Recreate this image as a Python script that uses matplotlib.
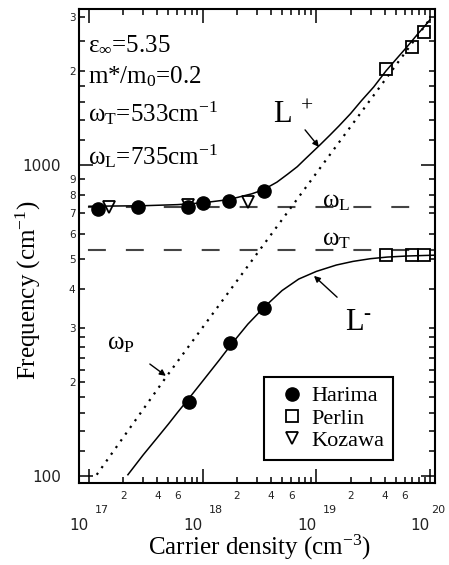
import numpy as np
import matplotlib.pyplot as plt
from matplotlib import ticker, transforms

# Fonts: serif text, sans tick labels
plt.rcParams["font.family"] = "Liberation Serif"
plt.rcParams["mathtext.fontset"] = "custom"
plt.rcParams["mathtext.rm"] = "Liberation Serif"
plt.rcParams["mathtext.it"] = "Liberation Serif:italic"

# Measured points (carrier density in cm^-3, frequency in cm^-1)
harima_up_n = [1.2e17, 2.7e17, 7.4e17, 1.0e18, 1.7e18, 3.5e18]
harima_up_w = [722, 733, 735, 755, 766, 826]
harima_lo_n = [7.6e17, 1.75e18, 3.5e18]
harima_lo_w = [173, 268, 347]
perlin_up_n = [4.1e19, 7.0e19, 8.9e19]
perlin_up_w = [2037, 2393, 2680]
perlin_lo_n = [4.1e19, 7.0e19, 8.9e19]
perlin_lo_w = [514, 514, 514]
kozawa_n = [1.5e17, 7.4e17, 2.5e18]
kozawa_w = [733, 745, 762]

# Coupled mode curves
lplus_n = [1e17, 3e17, 6e17, 1e18, 1.5e18, 2e18, 2.7e18, 3.4e18, 4.5e18, 5.6e18,
           6.8e18, 7.9e18, 9.3e18, 1.08e19, 1.32e19, 1.58e19, 2.0e19, 2.5e19,
           3.2e19, 4.1e19, 5.0e19, 6.3e19, 7.9e19, 8.9e19, 1.0e20]
lplus_w = [737, 740, 746, 756, 770, 786, 808, 832, 881, 935,
           988, 1042, 1103, 1162, 1249, 1335, 1463, 1612,
           1783, 2007, 2182, 2403, 2653, 2785, 2933]
lminus_n = [2.2e17, 3e17, 4e17, 5e17, 6e17, 7.6e17, 1e18, 1.4e18, 1.8e18, 2.5e18,
            3.5e18, 5e18, 7e18, 1e19, 1.5e19, 2.1e19, 3e19, 4.2e19, 6.3e19, 1.08e20]
lminus_w = [101, 117, 133, 147, 160, 178, 202, 236, 266, 308,
            350, 395, 430, 455, 477, 490, 500, 506, 510, 513]
wp_n = [1.17e17, 4.9e17, 1.0e20]
wp_w = [101, 211, 2950]

omega_L = 735
omega_T = 533

fig = plt.figure(figsize=(4.49, 5.65), dpi=100)
ax = fig.add_axes([79 / 449, 82 / 565, 356 / 449, 474 / 565])
ax.set_xscale("log")
ax.set_yscale("log")

# Phonon lines
dash = (13.9, (8.6, 9.6))
ax.axhline(omega_L, color="#444444", lw=1.5, linestyle=dash, zorder=1)
ax.axhline(omega_T, color="#444444", lw=1.5, linestyle=dash, zorder=1)

# Curves
ax.plot(wp_n, wp_w, color="k", lw=1.6, linestyle=(0, (1, 2.7)), zorder=2)
ax.plot(lplus_n, lplus_w, color="k", lw=1.1, zorder=2)
ax.plot(lminus_n, lminus_w, color="k", lw=1.1, zorder=2)

# Data points
ax.plot(harima_up_n, harima_up_w, "o", ms=9.5, color="k", zorder=4, label="Harima")
ax.plot(harima_lo_n, harima_lo_w, "o", ms=9.5, color="k", zorder=4)
ax.plot(perlin_up_n, perlin_up_w, "s", ms=9, mfc="none", mec="k", mew=1.3, zorder=4, label="Perlin")
ax.plot(perlin_lo_n, perlin_lo_w, "s", ms=9, mfc="none", mec="k", mew=1.3, zorder=4)
ax.plot(kozawa_n, kozawa_w, "v", ms=9, mfc="none", mec="k", mew=1.3, zorder=4, label="Kozawa")

ax.set_xlim(8.17e16, 1.107e20)
ax.set_ylim(95, 3175)

# Ticks
ax.xaxis.set_major_locator(ticker.FixedLocator([1e17, 1e18, 1e19, 1e20]))
ax.xaxis.set_major_formatter(ticker.NullFormatter())
xminor = [k * 10.0 ** e for e in (17, 18, 19) for k in range(2, 10)]
ax.xaxis.set_minor_locator(ticker.FixedLocator(xminor))


def xminor_fmt(v, pos):
    m = v / 10 ** np.floor(np.log10(v) + 1e-9)
    k = int(round(m))
    return str(k) if k in (2, 4, 6) else ""


ax.xaxis.set_minor_formatter(ticker.FuncFormatter(xminor_fmt))

ax.yaxis.set_major_locator(ticker.FixedLocator([100, 1000]))
ax.yaxis.set_major_formatter(ticker.FuncFormatter(lambda v, p: f"{v:g}"))
yminor = [120, 140, 160, 180, 200, 220, 240, 260, 280, 300, 400, 500, 600, 700, 800, 900,
          1200, 1400, 1600, 1800, 2000, 2500, 3000]
ax.yaxis.set_minor_locator(ticker.FixedLocator(yminor))


def yminor_fmt(v, pos):
    m = v / 10 ** np.floor(np.log10(v) + 1e-9)
    if abs(m - round(m)) < 1e-6:
        return str(int(round(m)))
    return ""


ax.yaxis.set_minor_formatter(ticker.FuncFormatter(yminor_fmt))

ax.tick_params(which="both", direction="in", top=True, right=True, width=1.1,
               labelfontfamily="DejaVu Sans", labelcolor="#222222")
ax.tick_params(which="major", length=10)
ax.tick_params(which="minor", length=4.5)
ax.tick_params(axis="y", which="major", labelsize=11, pad=13)
ax.tick_params(axis="y", which="minor", labelsize=7.5, pad=2.5)
ax.tick_params(axis="x", which="minor", labelsize=7.5, pad=6)
for s in ax.spines.values():
    s.set_linewidth(1.5)

# Decade labels drawn as "10" + exponent, the way the original does
xt = ax.get_xaxis_transform()
for e in (17, 18, 19, 20):
    ax.text(10.0 ** e, -0.099, "10", transform=xt, ha="right", va="baseline",
            fontsize=11, family="DejaVu Sans", color="#222222")
    shift = 4.5 if e < 20 else 1.0
    xt_exp = transforms.offset_copy(xt, fig=fig, x=shift, y=0, units="points")
    ax.text(10.0 ** e, -0.063, str(e), transform=xt_exp, ha="left", va="baseline",
            fontsize=8, family="DejaVu Sans", color="#222222")

# Axis labels
ax.set_xlabel("Carrier density (cm$^{-3}$)", fontsize=18)
ax.xaxis.label.set_verticalalignment("baseline")
ax.xaxis.set_label_coords(0.508, -0.152)
ax.set_ylabel("Frequency (cm$^{-1}$)", fontsize=18)
ax.yaxis.set_label_coords(-0.101, 0.407)

# Parameter block
params = [r"$\mathrm{ε}_{\infty}$=5.35",
          r"m*/m$_{0}$=0.2",
          r"$\mathrm{ω}_{\mathrm{T}}$=533cm$^{-1}$",
          r"$\mathrm{ω}_{\mathrm{L}}$=735cm$^{-1}$"]
for txt, yy in zip(params, [0.913, 0.844, 0.762, 0.673]):
    ax.text(0.025, yy, txt, transform=ax.transAxes, fontsize=18, va="baseline")

# Curve labels and arrows
ax.text(0.545, 0.759, r"L$^{\ +}$", transform=ax.transAxes, fontsize=22, va="baseline")
ax.text(0.747, 0.323, r"L$^{\mathrm{‐}}$", transform=ax.transAxes, fontsize=22, va="baseline")
ax.text(0.683, 0.582, r"$\mathrm{ω}_{\mathrm{L}}$", transform=ax.transAxes, fontsize=18, va="baseline")
ax.text(0.683, 0.502, r"$\mathrm{ω}_{\mathrm{T}}$", transform=ax.transAxes, fontsize=18, va="baseline")
ax.text(0.079, 0.281, r"$\mathrm{ω}_{\mathrm{P}}$", transform=ax.transAxes, fontsize=18, va="baseline")

arrow = dict(arrowstyle="-|>", lw=1.0, color="k", mutation_scale=9, shrinkA=0, shrinkB=0)
ax.annotate("", xy=(0.674, 0.709), xytext=(0.635, 0.745), xycoords="axes fraction", arrowprops=arrow)
ax.annotate("", xy=(0.660, 0.437), xytext=(0.725, 0.392), xycoords="axes fraction", arrowprops=arrow)
ax.annotate("", xy=(0.244, 0.226), xytext=(0.199, 0.251), xycoords="axes fraction", arrowprops=arrow)

# Legend
leg = ax.legend(loc="lower right", bbox_to_anchor=(0.882, 0.0485), fontsize=16,
                frameon=True, fancybox=False, edgecolor="black", framealpha=1,
                borderpad=0.4, labelspacing=0.08, handlelength=1.7,
                handletextpad=0.0, borderaxespad=0)
leg.get_frame().set_linewidth(1.5)

fig.savefig("out.png", dpi=100)
